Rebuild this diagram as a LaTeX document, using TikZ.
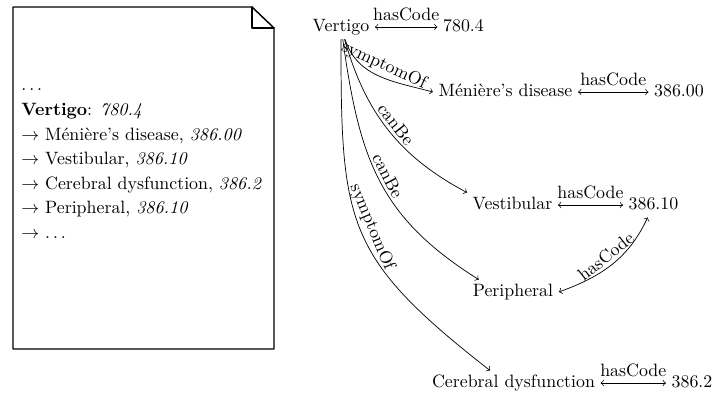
\documentclass[tikz,border=0pt]{standalone}
\usetikzlibrary{positioning}

\begin{document}
\begin{tikzpicture}[x=0.56pt,y=-0.56pt,line cap=round,line join=round,
    word/.style={inner sep=3pt,text height=1.5ex,text depth=.25ex},
    docline/.style={anchor=base west,inner sep=0pt},
    rel/.style={->},
    code/.style={<->},
    lbl/.style={sloped,above,inner sep=1.8pt,pos=0.5}]
    \useasboundingbox (0,0) rectangle (713,396);
    % document
    \draw[thick] (13,7)--(252,7)--(274,28)--(274,349)--(13,349)--cycle;
    \draw[thick] (252,7)--(252,28)--(274,28);
    \foreach \txt [count=\i from 0] in {{$\ldots$},
        {\textbf{Vertigo}: \textit{780.4}},
        {$\rightarrow$ Méni\`ere's disease, \textit{386.00}},
        {$\rightarrow$ Vestibular, \textit{386.10}},
        {$\rightarrow$ Cerebral dysfunction, \textit{386.2}},
        {$\rightarrow$ Peripheral, \textit{386.10}},
        {$\rightarrow$ $\ldots$}}
      \node[docline] (line\i) at (21,{91+24.6*\i}) {\txt};
    % graph
    \node[word] (vertigo) at (341,27) {Vertigo};
    \node[word] (code0) at (463.5,27) {780.4};
    \node[word] (meniere) at (505.5,92) {Méni\`ere's disease};
    \node[word] (code1) at (679,92) {386.00};
    \node[word] (vestib) at (512.5,205) {Vestibular};
    \node[word] (code2) at (653.5,205) {386.10};
    \node[word] (periph) at (513,292) {Peripheral};
    \node[word] (cerebral) at (513.5,383) {Cerebral dysfunction};
    \node[word] (code3) at (692,383) {386.2};
    \draw[code] (vertigo) -- node[above] {hasCode} (code0);
    \draw[code] (meniere) -- node[above] {hasCode} (code1);
    \draw[code] (vestib) -- node[above] {hasCode} (code2);
    \draw[code] (cerebral) -- node[above] {hasCode} (code3);
    \draw[code] (periph.east) to[out=20,in=-115] node[lbl] {hasCode} (code2);
    \draw[rel] (vertigo) to[out=-72,in=165] node[lbl] {symptomOf} (meniere.west);
    \draw[rel] (vertigo) to[out=-74,in=152] node[lbl] {canBe} (vestib.north west);
    \draw[rel] (vertigo) to[out=-82,in=148,looseness=1.1] node[lbl] {canBe} (periph.160);
    \draw[rel] (vertigo) to[out=-90,in=142,looseness=1.3] node[lbl] {symptomOf} (cerebral.152);
  \end{tikzpicture}
\end{document}
